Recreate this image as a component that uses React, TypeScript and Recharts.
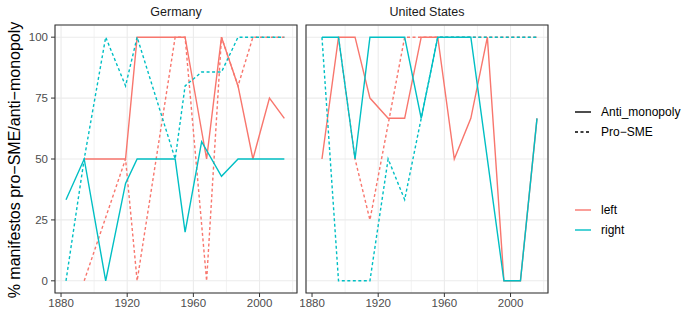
import { LineChart, Line, XAxis, YAxis, CartesianGrid, ReferenceArea } from "recharts";

const FONT = "'Liberation Sans', Arial, sans-serif";
const LEFT_COLOR = "#F8766D";
const RIGHT_COLOR = "#00BFC4";

const X_DOMAIN: [number, number] = [1876.35, 2022.65];
const Y_DOMAIN: [number, number] = [-5, 105];
const xTicks = [1880, 1920, 1960, 2000];
const xMinorTicks = [1900, 1940, 1980, 2020];
const yTicks = [0, 25, 50, 75, 100];
const yMinorTicks = [12.5, 37.5, 62.5, 87.5];

// Germany
const deYears = [1883, 1894, 1907, 1919, 1926, 1949, 1955, 1965, 1968, 1977, 1987, 1996, 2006, 2015];
const deLeftAnti = [null, 50, null, 50, 100, null, 100, null, 50, 100, 80, 50, 75, 66.7];
const deLeftPro = [null, 0, null, 50, 0, 100, 100, null, 0, 100, 80, 100, 100, 100];
const deRightAnti = [33.3, 50, 0, 40, 50, 50, 20, 57.1, null, 42.9, 50, null, null, 50];
const deRightPro = [0, 50, 100, 80, 100, 50, 80, 85.7, null, 85.7, 100, null, null, 100];

// United States
const usYears = [1886, 1896, 1906, 1915, 1926, 1936, 1946, 1956, 1966, 1976, 1986, 1996, 2006, 2016];
const usLeftAnti = [50, 100, 100, 75, 66.7, 66.7, 100, 100, 50, 66.7, 100, 0, 0, 66.7];
const usLeftPro = [null, 100, 50, 25, null, 100, 100, 100, 100, 100, 100, 100, 100, 100];
const usRightAnti = [100, 100, 50, 100, 100, 100, 66.7, 100, 100, 100, null, 0, 0, 66.7];
const usRightPro = [100, 0, 0, 0, 50, 33.3, 66.7, 100, 100, 100, 100, 100, 100, 100];

type Row = {
  year: number;
  leftAnti: number | null;
  leftPro: number | null;
  rightAnti: number | null;
  rightPro: number | null;
};

function buildRows(
  years: number[],
  leftAnti: (number | null)[],
  leftPro: (number | null)[],
  rightAnti: (number | null)[],
  rightPro: (number | null)[]
): Row[] {
  return years.map((year, i) => ({
    year,
    leftAnti: leftAnti[i],
    leftPro: leftPro[i],
    rightAnti: rightAnti[i],
    rightPro: rightPro[i],
  }));
}

const deRows = buildRows(deYears, deLeftAnti, deLeftPro, deRightAnti, deRightPro);
const usRows = buildRows(usYears, usLeftAnti, usLeftPro, usRightAnti, usRightPro);

const tickStyle = { fill: "#4D4D4D", fontSize: 11.5, fontFamily: FONT };
const DASH = "3 2.5";

function Panel({ rows, showY, width, marginLeft }: { rows: Row[]; showY: boolean; width: number; marginLeft: number }) {
  return (
    <LineChart width={width} height={316} data={rows} margin={{ top: 25, right: 3, bottom: 0, left: marginLeft }}>
      {/* minor grid via hidden axes */}
      <XAxis xAxisId="minor" type="number" dataKey="year" domain={X_DOMAIN} ticks={xMinorTicks} hide />
      <YAxis yAxisId="minor" type="number" domain={Y_DOMAIN} ticks={yMinorTicks} hide width={0} />
      <CartesianGrid xAxisId="minor" yAxisId="minor" stroke="#EBEBEB" strokeWidth={0.6} />
      <CartesianGrid stroke="#EBEBEB" strokeWidth={1.1} />
      <XAxis
        type="number"
        dataKey="year"
        domain={X_DOMAIN}
        ticks={xTicks}
        allowDataOverflow
        axisLine={false}
        tickLine={{ stroke: "#333333" }}
        tickSize={4}
        tickMargin={2}
        height={23}
        tick={tickStyle}
      />
      <YAxis
        type="number"
        domain={Y_DOMAIN}
        ticks={yTicks}
        allowDataOverflow
        hide={!showY}
        width={showY ? 30 : 0}
        axisLine={false}
        tickLine={{ stroke: "#333333" }}
        tickSize={4}
        tickMargin={3}
        tick={tickStyle}
      />
      <Line dataKey="leftAnti" stroke={LEFT_COLOR} strokeWidth={1.4} dot={false} connectNulls isAnimationActive={false} />
      <Line dataKey="leftPro" stroke={LEFT_COLOR} strokeWidth={1.4} strokeDasharray={DASH} dot={false} connectNulls isAnimationActive={false} />
      <Line dataKey="rightAnti" stroke={RIGHT_COLOR} strokeWidth={1.4} dot={false} connectNulls isAnimationActive={false} />
      <Line dataKey="rightPro" stroke={RIGHT_COLOR} strokeWidth={1.4} strokeDasharray={DASH} dot={false} connectNulls isAnimationActive={false} />
      <ReferenceArea x1={X_DOMAIN[0]} x2={X_DOMAIN[1]} y1={Y_DOMAIN[0]} y2={Y_DOMAIN[1]} fill="none" stroke="#333333" strokeWidth={1.1} ifOverflow="visible" />
    </LineChart>
  );
}

function LegendKey({ color, dashed, label, top }: { color: string; dashed?: boolean; label: string; top: number }) {
  return (
    <g>
      <line x1={575} x2={591} y1={top} y2={top} stroke={color} strokeWidth={1.4} strokeDasharray={dashed ? DASH : undefined} />
      <text x={601} y={top} dominantBaseline="central" fontSize={12} fill="#000" fontFamily={FONT}>
        {label}
      </text>
    </g>
  );
}

export default function App() {
  return (
    <div style={{ position: "absolute", left: 0, top: 0, width: 687, height: 316, background: "#fff", fontFamily: FONT }}>
      <div style={{ position: "absolute", left: 0, top: 0 }}>
        <Panel rows={deRows} showY width={300} marginLeft={25} />
      </div>
      <div style={{ position: "absolute", left: 300, top: 0 }}>
        <Panel rows={usRows} showY={false} width={251} marginLeft={6} />
      </div>
      <svg width={687} height={316} style={{ position: "absolute", left: 0, top: 0, pointerEvents: "none" }}>
        <text x={176} y={12} textAnchor="middle" dominantBaseline="central" fontSize={12.5} fill="#1A1A1A" fontFamily={FONT}>
          Germany
        </text>
        <text x={427} y={12} textAnchor="middle" dominantBaseline="central" fontSize={12.5} fill="#1A1A1A" fontFamily={FONT}>
          United States
        </text>
        <text
          x={14}
          y={160}
          transform="rotate(-90 14 160)"
          textAnchor="middle"
          dominantBaseline="central"
          fontSize={16}
          fill="#000"
          fontFamily={FONT}
        >
          % manifestos pro−SME/anti−monopoly
        </text>
        <LegendKey color="#000" label="Anti_monopoly" top={112} />
        <LegendKey color="#000" dashed label="Pro−SME" top={132} />
        <LegendKey color={LEFT_COLOR} label="left" top={210} />
        <LegendKey color={RIGHT_COLOR} label="right" top={230} />
      </svg>
    </div>
  );
}
